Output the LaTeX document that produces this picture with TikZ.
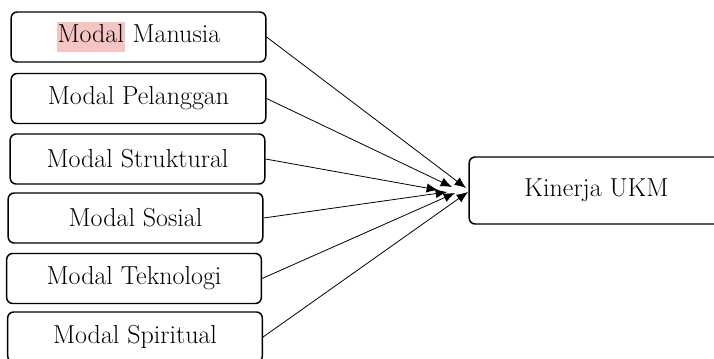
\documentclass[tikz,border=0pt]{standalone}
\usetikzlibrary{arrows.meta}
\definecolor{hlpink}{RGB}{247,196,196}
\begin{document}
\begin{tikzpicture}[x=0.75pt,y=-0.75pt,
		modal/.style={draw,line width=1.1pt,rounded corners=4.5pt,minimum width=191pt,minimum height=37.5pt,inner sep=0pt,font=\fontsize{19.5}{22}\selectfont},
		panah/.style={line width=0.6pt,-{Latex[length=8.5pt,width=7pt]}}]
		\useasboundingbox (0,0) rectangle (714,358);
		\clip (0,0) rectangle (714,358);
		\setlength{\fboxsep}{0.6pt}
		\node[modal] (manusia) at (138.5,37) {\raisebox{-1.5pt}{\colorbox{hlpink}{\strut Modal} Manusia}};
		\node[modal] (pelanggan) at (138.5,98.5) {\raisebox{-1.5pt}{Modal Pelanggan}};
		\node[modal] (struktural) at (137.5,159) {\raisebox{-1.5pt}{Modal Struktural}};
		\node[modal] (sosial) at (135.5,218) {\raisebox{-1.5pt}{Modal Sosial}};
		\node[modal] (teknologi) at (134,278.5) {\raisebox{-1.5pt}{Modal Teknologi}};
		\node[modal] (spiritual) at (135,337) {\raisebox{-1.5pt}{Modal Spiritual}};
		\node[modal,minimum height=50.25pt] (kinerja) at (596.5,190.5) {\raisebox{4pt}{Kinerja UKM}};
		\coordinate (t1) at (466,188);
		\coordinate (t2) at (452,187);
		\coordinate (t3) at (438,190);
		\coordinate (t4) at (447,192);
		\coordinate (t5) at (455,193);
		\coordinate (t6) at (468,192);
		\draw [panah] (manusia.east) to (t1);
		\draw [panah] (pelanggan.east) to (t2);
		\draw [panah] (struktural.east) to (t3);
		\draw [panah] (sosial.east) to (t4);
		\draw [panah] (teknologi.east) to (t5);
		\draw [panah] (spiritual.east) to (t6);
	\end{tikzpicture}
\end{document}
